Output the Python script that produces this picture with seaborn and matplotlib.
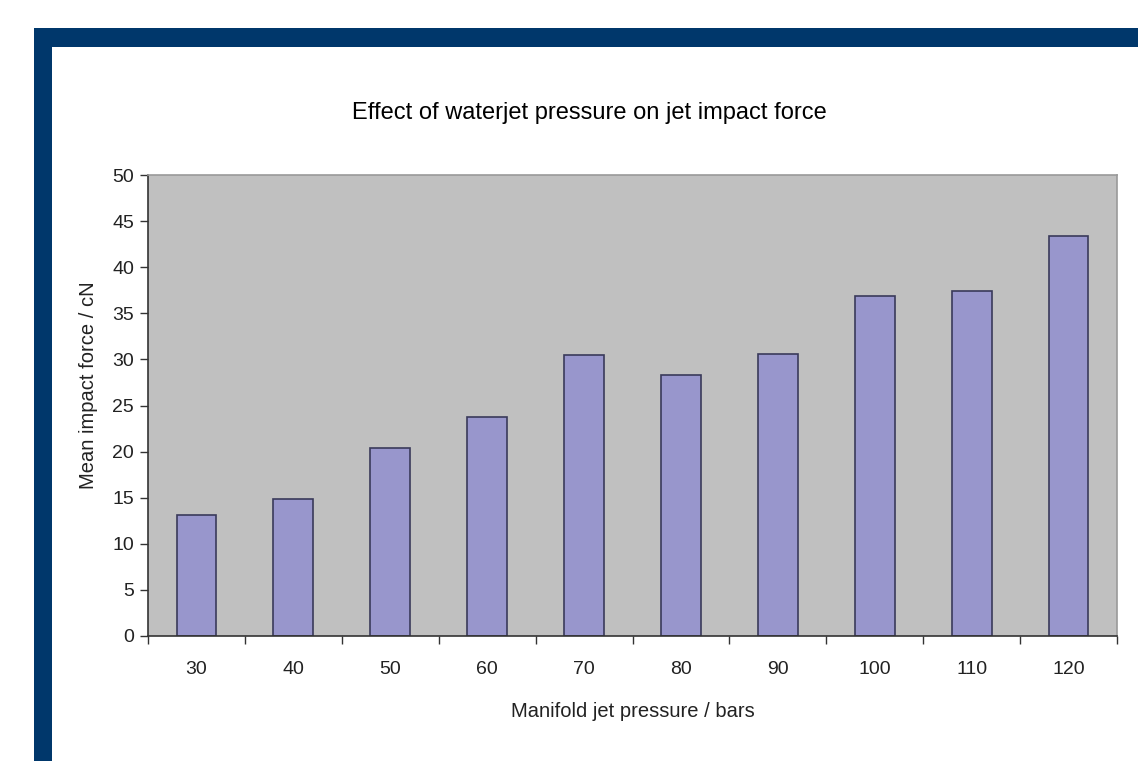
import matplotlib
matplotlib.use("Agg")
import matplotlib.pyplot as plt
import seaborn as sns
import pandas as pd
import numpy as np
from matplotlib.patches import Rectangle

pressures = ["30", "40", "50", "60", "70", "80", "90", "100", "110", "120"]
forces = [13.1, 14.9, 20.4, 23.7, 30.5, 28.3, 30.6, 36.9, 37.4, 43.4]
y_ticks = [0, 5, 10, 15, 20, 25, 30, 35, 40, 45, 50]

sns.set_style("white")
plt.rcParams['font.family'] = ['Liberation Sans', 'DejaVu Sans']

df = pd.DataFrame({"pressure": pressures, "force": forces})

fig = plt.figure(figsize=(11.38, 7.61), dpi=100)
W, H = 1138, 761
# dark blue frame
fig.patches.append(Rectangle((34 / W, 0), 18 / W, 1 - 28 / H, transform=fig.transFigure,
                             facecolor="#00376b", edgecolor="none", zorder=0))
fig.patches.append(Rectangle((34 / W, 1 - 47 / H), 1 - 34 / W, 19 / H, transform=fig.transFigure,
                             facecolor="#00376b", edgecolor="none", zorder=0))

ax = fig.add_axes([148 / W, 1 - 636 / H, (1117 - 148) / W, (636 - 175) / H])
ax.set_facecolor("#c0c0c0")
sns.barplot(data=df, x="pressure", y="force", ax=ax, color="#9896cc",
            width=0.41, edgecolor="#3a3a5a", linewidth=1.2, saturation=1)

ax.set_xlim(-0.5, len(pressures) - 0.5)
ax.set_ylim(0, 50)
ax.set_yticks(y_ticks)
ax.set_yticklabels([str(v) for v in y_ticks], fontsize=14, color="#222222")
ax.set_xticks(range(len(pressures)))
ax.set_xticklabels(pressures, fontsize=14, color="#222222")
ax.set_xticks(np.arange(-0.5, len(pressures)), minor=True)
ax.tick_params(axis="x", which="major", length=0, pad=18)
ax.tick_params(axis="x", which="minor", length=6, width=1, color="#333333", direction="out")
ax.tick_params(axis="y", which="major", length=6, width=1, color="#333333", direction="out", pad=4)
ax.yaxis.set_ticks_position("left")
ax.xaxis.set_ticks_position("bottom")

for s in ["left", "bottom"]:
    ax.spines[s].set_color("#333333")
    ax.spines[s].set_linewidth(1.2)
for s in ["top", "right"]:
    ax.spines[s].set_color("#999999")
    ax.spines[s].set_linewidth(1.2)

ax.set_xlabel("Manifold jet pressure / bars", fontsize=14.5, color="#222222", labelpad=17)
ax.set_ylabel("Mean impact force / cN", fontsize=14.5, color="#222222")
ax.yaxis.set_label_coords((98 - 148) / (1117 - 148), (636 - 385) / (636 - 175))

fig.text(589 / W, 1 - 113 / H, "Effect of waterjet pressure on jet impact force",
         ha="center", va="center", fontsize=17, color="black")

fig.savefig("out.png", dpi=100, facecolor="white")
